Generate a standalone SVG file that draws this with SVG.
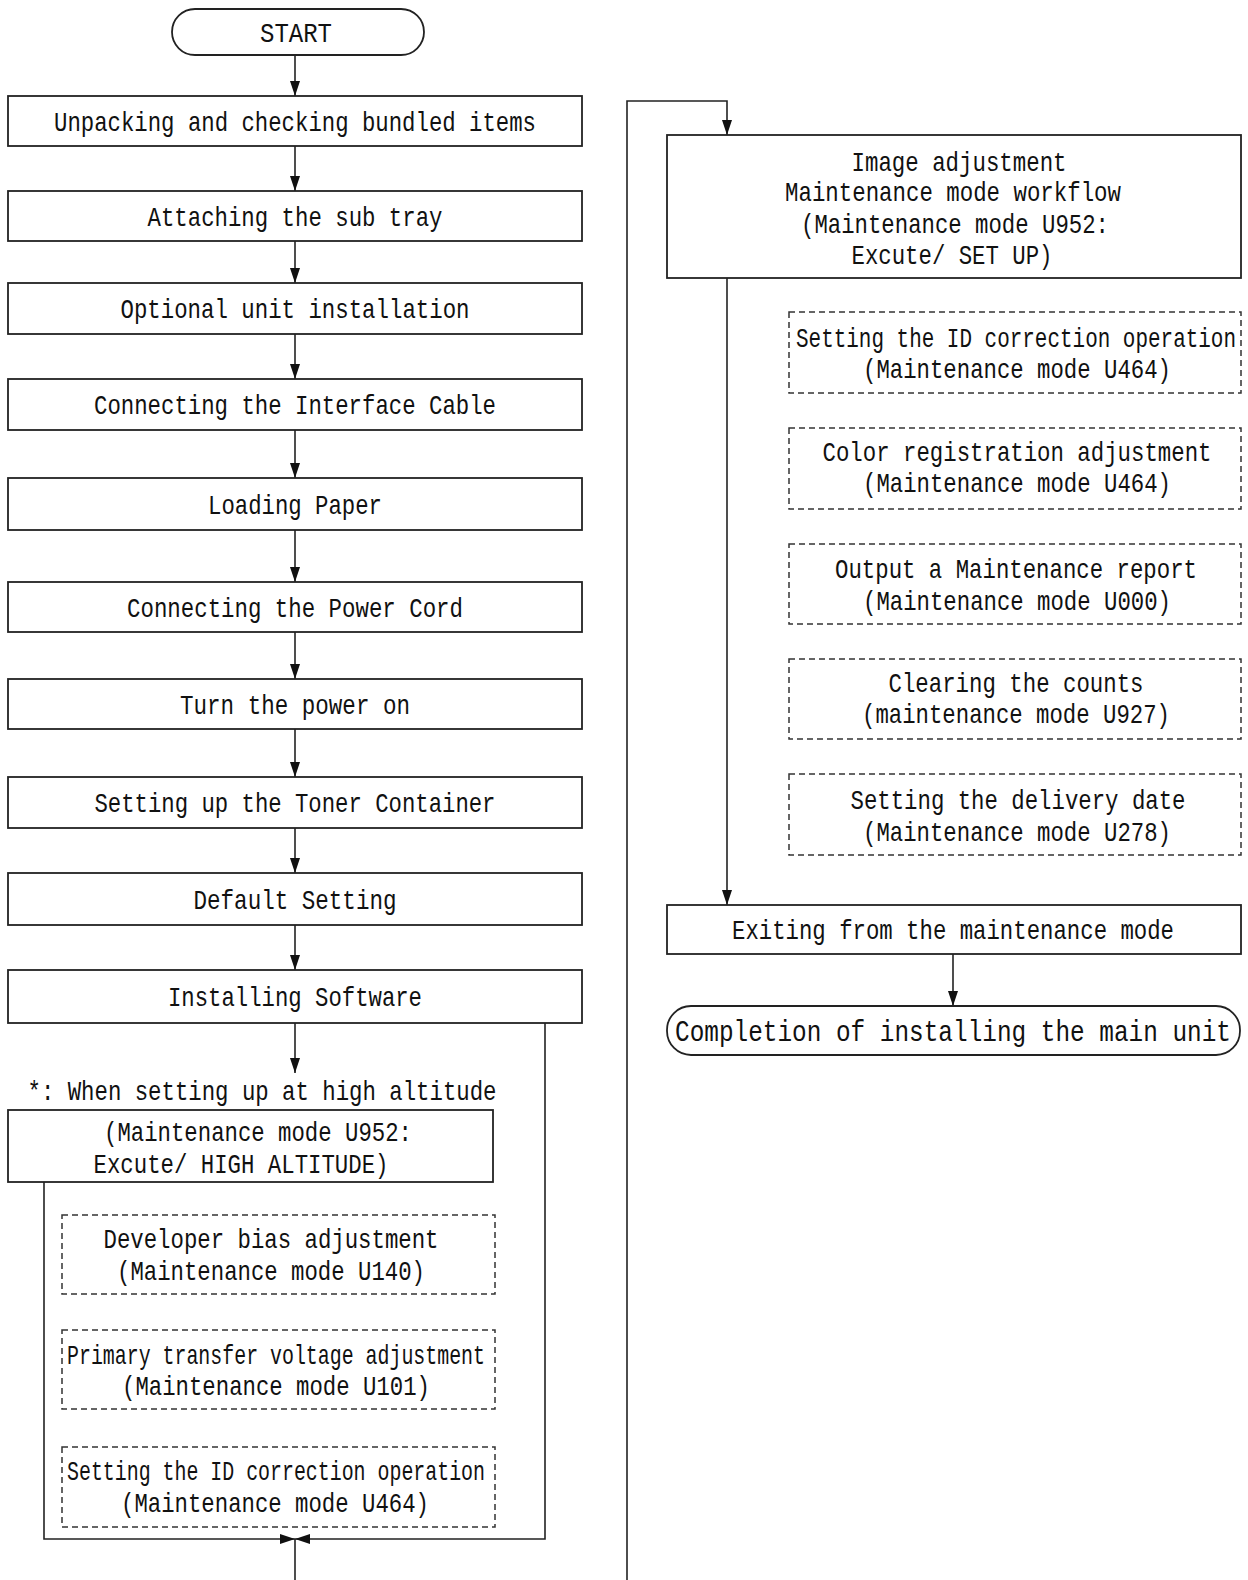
<svg xmlns="http://www.w3.org/2000/svg" width="1248" height="1580" viewBox="0 0 1248 1580">
<defs>
<style>
.bx{fill:#fff;stroke:#222;stroke-width:1.8}
.db{fill:none;stroke:#333;stroke-width:1.5;stroke-dasharray:6 4}
.ln{fill:none;stroke:#222;stroke-width:1.6}
.t{font-family:"Liberation Mono",monospace;font-size:28px;fill:#111;text-anchor:middle}
</style>
<marker id="ah" markerUnits="userSpaceOnUse" markerWidth="15" markerHeight="16" viewBox="0 0 15 16" refX="15" refY="8" orient="auto">
<path d="M0,3 L15,8 L0,13 Z" fill="#111"/>
</marker>
</defs>
<rect width="1248" height="1580" fill="#fff"/>
<g id="connectors">
<line class="ln" x1="295" y1="55" x2="295" y2="96" marker-end="url(#ah)"/>
<line class="ln" x1="295" y1="146" x2="295" y2="191" marker-end="url(#ah)"/>
<line class="ln" x1="295" y1="241" x2="295" y2="283" marker-end="url(#ah)"/>
<line class="ln" x1="295" y1="334" x2="295" y2="379" marker-end="url(#ah)"/>
<line class="ln" x1="295" y1="430" x2="295" y2="478" marker-end="url(#ah)"/>
<line class="ln" x1="295" y1="530" x2="295" y2="582" marker-end="url(#ah)"/>
<line class="ln" x1="295" y1="632" x2="295" y2="679" marker-end="url(#ah)"/>
<line class="ln" x1="295" y1="729" x2="295" y2="777" marker-end="url(#ah)"/>
<line class="ln" x1="295" y1="828" x2="295" y2="873" marker-end="url(#ah)"/>
<line class="ln" x1="295" y1="925" x2="295" y2="970" marker-end="url(#ah)"/>
<line class="ln" x1="295" y1="1023" x2="295" y2="1073" marker-end="url(#ah)"/>
<polyline class="ln" points="44,1182 44,1539 295,1539" marker-end="url(#ah)"/>
<polyline class="ln" points="545,1023 545,1539 295,1539" marker-end="url(#ah)"/>
<line class="ln" x1="295" y1="1539" x2="295" y2="1580"/>
<polyline class="ln" points="627,1580 627,101 727,101 727,135" marker-end="url(#ah)"/>
<line class="ln" x1="727" y1="278" x2="727" y2="905" marker-end="url(#ah)"/>
<line class="ln" x1="953" y1="954" x2="953" y2="1006" marker-end="url(#ah)"/>
</g>
<g id="start"><rect class="bx" x="172" y="9" width="252" height="46" rx="23"/><text class="t" x="296" y="42" textLength="72" lengthAdjust="spacingAndGlyphs">START</text></g>
<g id="n1"><rect class="bx" x="8" y="96" width="574" height="50"/><text class="t" x="295" y="131" textLength="482" lengthAdjust="spacingAndGlyphs">Unpacking and checking bundled items</text></g>
<g id="n2"><rect class="bx" x="8" y="191" width="574" height="50"/><text class="t" x="295" y="226" textLength="295" lengthAdjust="spacingAndGlyphs">Attaching the sub tray</text></g>
<g id="n3"><rect class="bx" x="8" y="283" width="574" height="51"/><text class="t" x="295" y="318" textLength="349" lengthAdjust="spacingAndGlyphs">Optional unit installation</text></g>
<g id="n4"><rect class="bx" x="8" y="379" width="574" height="51"/><text class="t" x="295" y="414" textLength="402" lengthAdjust="spacingAndGlyphs">Connecting the Interface Cable</text></g>
<g id="n5"><rect class="bx" x="8" y="478" width="574" height="52"/><text class="t" x="295" y="514" textLength="174" lengthAdjust="spacingAndGlyphs">Loading Paper</text></g>
<g id="n6"><rect class="bx" x="8" y="582" width="574" height="50"/><text class="t" x="295" y="617" textLength="336" lengthAdjust="spacingAndGlyphs">Connecting the Power Cord</text></g>
<g id="n7"><rect class="bx" x="8" y="679" width="574" height="50"/><text class="t" x="295" y="714" textLength="230" lengthAdjust="spacingAndGlyphs">Turn the power on</text></g>
<g id="n8"><rect class="bx" x="8" y="777" width="574" height="51"/><text class="t" x="295" y="812" textLength="401" lengthAdjust="spacingAndGlyphs">Setting up the Toner Container</text></g>
<g id="n9"><rect class="bx" x="8" y="873" width="574" height="52"/><text class="t" x="295" y="909" textLength="203" lengthAdjust="spacingAndGlyphs">Default Setting</text></g>
<g id="n10"><rect class="bx" x="8" y="970" width="574" height="53"/><text class="t" x="295" y="1006" textLength="254" lengthAdjust="spacingAndGlyphs">Installing Software</text></g>
<g id="note"><text class="t" x="262" y="1100" textLength="469" lengthAdjust="spacingAndGlyphs">*: When setting up at high altitude</text></g>
<g id="n11"><rect class="bx" x="8" y="1110" width="485" height="72"/>
<text class="t" x="258" y="1141" textLength="308" lengthAdjust="spacingAndGlyphs">(Maintenance mode U952:</text>
<text class="t" x="241" y="1173" textLength="295" lengthAdjust="spacingAndGlyphs">Excute/ HIGH ALTITUDE)</text></g>
<g id="d1"><rect class="db" x="62" y="1215" width="433" height="79"/>
<text class="t" x="271" y="1248" textLength="335" lengthAdjust="spacingAndGlyphs">Developer bias adjustment</text>
<text class="t" x="271" y="1280" textLength="308" lengthAdjust="spacingAndGlyphs">(Maintenance mode U140)</text></g>
<g id="d2"><rect class="db" x="62" y="1330" width="433" height="79"/>
<text class="t" x="276" y="1364" textLength="418" lengthAdjust="spacingAndGlyphs">Primary transfer voltage adjustment</text>
<text class="t" x="276" y="1395" textLength="308" lengthAdjust="spacingAndGlyphs">(Maintenance mode U101)</text></g>
<g id="d3"><rect class="db" x="62" y="1447" width="433" height="80"/>
<text class="t" x="276" y="1480" textLength="418" lengthAdjust="spacingAndGlyphs">Setting the ID correction operation</text>
<text class="t" x="275" y="1512" textLength="308" lengthAdjust="spacingAndGlyphs">(Maintenance mode U464)</text></g>
<g id="r1"><rect class="bx" x="667" y="135" width="574" height="143"/>
<text class="t" x="959" y="171" textLength="215" lengthAdjust="spacingAndGlyphs">Image adjustment</text>
<text class="t" x="953" y="201" textLength="336" lengthAdjust="spacingAndGlyphs">Maintenance mode workflow</text>
<text class="t" x="955" y="233" textLength="308" lengthAdjust="spacingAndGlyphs">(Maintenance mode U952:</text>
<text class="t" x="952" y="264" textLength="201" lengthAdjust="spacingAndGlyphs">Excute/ SET UP)</text></g>
<g id="r2"><rect class="db" x="789" y="312" width="452" height="81"/>
<text class="t" x="1016" y="347" textLength="440" lengthAdjust="spacingAndGlyphs">Setting the ID correction operation</text>
<text class="t" x="1017" y="378" textLength="308" lengthAdjust="spacingAndGlyphs">(Maintenance mode U464)</text></g>
<g id="r3"><rect class="db" x="789" y="428" width="452" height="81"/>
<text class="t" x="1017" y="461" textLength="389" lengthAdjust="spacingAndGlyphs">Color registration adjustment</text>
<text class="t" x="1017" y="492" textLength="308" lengthAdjust="spacingAndGlyphs">(Maintenance mode U464)</text></g>
<g id="r4"><rect class="db" x="789" y="544" width="452" height="80"/>
<text class="t" x="1016" y="578" textLength="362" lengthAdjust="spacingAndGlyphs">Output a Maintenance report</text>
<text class="t" x="1017" y="610" textLength="308" lengthAdjust="spacingAndGlyphs">(Maintenance mode U000)</text></g>
<g id="r5"><rect class="db" x="789" y="659" width="452" height="80"/>
<text class="t" x="1016" y="692" textLength="255" lengthAdjust="spacingAndGlyphs">Clearing the counts</text>
<text class="t" x="1016" y="723" textLength="308" lengthAdjust="spacingAndGlyphs">(maintenance mode U927)</text></g>
<g id="r6"><rect class="db" x="789" y="774" width="452" height="81"/>
<text class="t" x="1018" y="809" textLength="335" lengthAdjust="spacingAndGlyphs">Setting the delivery date</text>
<text class="t" x="1017" y="841" textLength="308" lengthAdjust="spacingAndGlyphs">(Maintenance mode U278)</text></g>
<g id="r7"><rect class="bx" x="667" y="905" width="574" height="49"/>
<text class="t" x="953" y="939" textLength="442" lengthAdjust="spacingAndGlyphs">Exiting from the maintenance mode</text></g>
<g id="end"><rect class="bx" x="667" y="1006" width="573" height="49" rx="24"/>
<text class="t" x="953" y="1041" textLength="556" lengthAdjust="spacingAndGlyphs" style="font-size:30px">Completion of installing the main unit</text></g>
</svg>
